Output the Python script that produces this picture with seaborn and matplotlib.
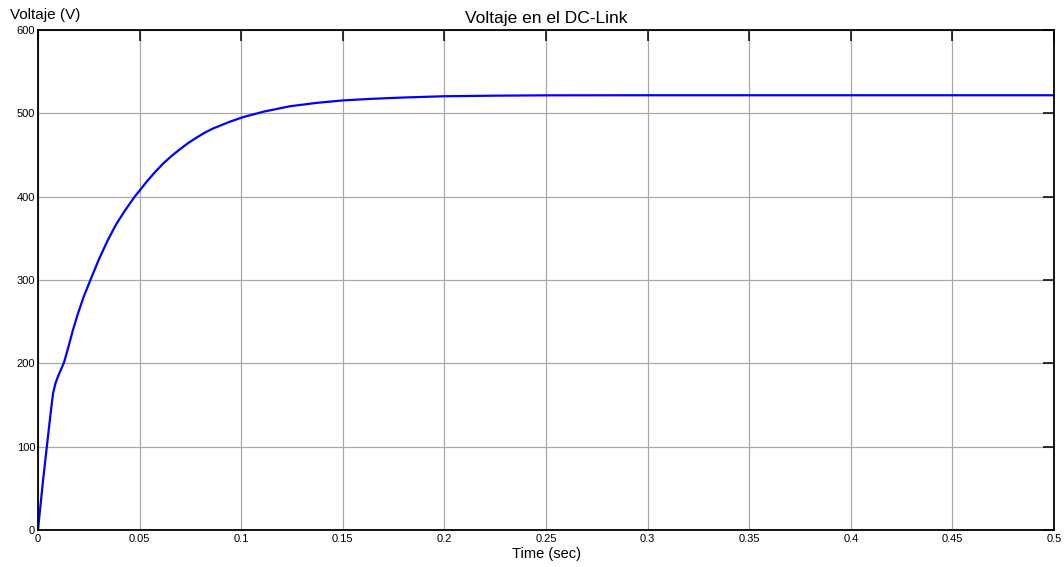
import matplotlib
matplotlib.use("Agg")
import matplotlib.pyplot as plt
import seaborn as sns
import pandas as pd

# DC-link voltage during start-up (time in s, voltage in V)
time_s = [0, 0.0025, 0.0044, 0.0062, 0.0074, 0.0086, 0.0098, 0.0112, 0.0128,
          0.0150, 0.0172, 0.0197, 0.0225, 0.0258, 0.030, 0.0344, 0.0385,
          0.0427, 0.0476, 0.0535, 0.0576, 0.0617, 0.0658, 0.0699, 0.0740,
          0.0781, 0.0822, 0.0863, 0.0945, 0.101, 0.111, 0.124, 0.137, 0.150,
          0.165, 0.180, 0.200, 0.225, 0.250, 0.300, 0.400, 0.500]
voltage_v = [0, 60, 101, 140, 164, 176, 184, 192, 201,
             220, 240, 260, 280, 300, 325, 348, 367,
             383, 400, 418, 429.5, 440, 449, 457, 464.5,
             471, 477, 482, 490, 495.5, 502, 508.5, 512.5, 515.5,
             517.5, 519, 520.5, 521.2, 521.6, 521.7, 521.7, 521.7]

x_ticks = [0, 0.05, 0.1, 0.15, 0.2, 0.25, 0.3, 0.35, 0.4, 0.45, 0.5]
x_tick_labels = ["0", "0.05", "0.1", "0.15", "0.2", "0.25", "0.3", "0.35",
                 "0.4", "0.45", "0.5"]
y_ticks = [0, 100, 200, 300, 400, 500, 600]
y_tick_labels = ["0", "100", "200", "300", "400", "500", "600"]

df = pd.DataFrame({"t": time_s, "v": voltage_v})

sns.set_style("white")
plt.rcParams["font.family"] = ["Liberation Sans", "DejaVu Sans"]
plt.rcParams["text.color"] = "black"
plt.rcParams["axes.labelcolor"] = "black"

fig = plt.figure(figsize=(10.64, 5.67), dpi=100)
ax = fig.add_axes([38 / 1064, 1 - 530 / 567, (1054 - 38) / 1064, (530 - 30) / 567])

sns.lineplot(data=df, x="t", y="v", ax=ax, color="#0000ff", linewidth=1.6)

ax.set_xlim(0, 0.5)
ax.set_ylim(0, 600)
ax.set_xticks(x_ticks)
ax.set_xticklabels(x_tick_labels)
ax.set_yticks(y_ticks)
ax.set_yticklabels(y_tick_labels)

ax.grid(True, color="#a8a8a8", linewidth=0.9)
ax.set_axisbelow(True)
for s in ax.spines.values():
    s.set_visible(True)
    s.set_color("black")
    s.set_linewidth(1.3)

ax.tick_params(axis="both", direction="in", length=8, width=1.1,
               top=True, right=True, labelsize=8, colors="black", pad=3)
ax.tick_params(axis="y", pad=2)

ax.set_xlabel("Time (sec)", fontsize=10.5, labelpad=2, color="black")
ax.set_ylabel("")
ax.set_title("Voltaje en el DC-Link", fontsize=12.5, pad=5, color="black")
fig.text(10 / 1064, 1 - 15 / 567, "Voltaje (V)", fontsize=11, va="center",
         ha="left", color="black")

fig.savefig("out.png", dpi=100, facecolor="white")
